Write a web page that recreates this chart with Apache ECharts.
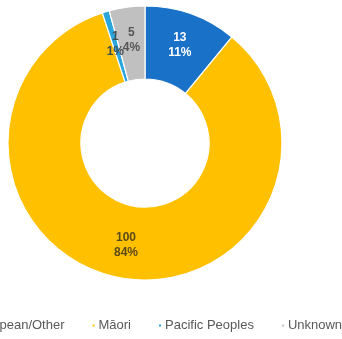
<!DOCTYPE html>
<html>
<head>
<meta charset="utf-8">
<script src="https://cdn.jsdelivr.net/npm/echarts@6/dist/echarts.min.js"></script>
<style>
  html, body { margin: 0; padding: 0; background: #fff; }
  #chart { width: 342px; height: 339px; }
</style>
</head>
<body>
<div id="chart"></div>
<script>
// Ethnicity breakdown (counts)
const categories = ['European/Other', 'Māori', 'Pacific Peoples', 'Unknown'];
const counts = [13, 100, 1, 5];
const colors = ['#1a72c8', '#ffc000', '#2aa6dc', '#c0c0c0'];
const labelColors = ['#ffffff', '#5c4a17', '#3d4a50', '#555555'];

const total = counts.reduce((a, b) => a + b, 0);

const chart = echarts.init(document.getElementById('chart'), null, { renderer: 'canvas' });

chart.setOption({
  animation: false,
  color: colors,
  legend: {
    data: categories,
    orient: 'horizontal',
    bottom: 2,
    left: -41,
    width: 460,
    icon: 'rect',
    itemWidth: 4,
    itemHeight: 4,
    itemGap: 26,
    textStyle: { fontFamily: 'Liberation Sans, Arial, sans-serif', fontSize: 13, color: '#595959', padding: [0, 0, 0, -2] },
    selectedMode: false
  },
  series: [{
    type: 'pie',
    center: [145, 143],
    radius: [64, 137],
    startAngle: 90,
    clockwise: true,
    avoidLabelOverlap: false,
    minShowLabelAngle: 0,
    itemStyle: { borderColor: '#ffffff', borderWidth: 1.2 },
    label: {
      show: true,
      position: 'inside',
      fontFamily: 'Liberation Sans, Arial, sans-serif',
      fontSize: 12,
      fontWeight: 'bold',
      lineHeight: 15,
      formatter: p => p.value + '\n' + Math.round(p.value / total * 100) + '%'
    },
    labelLine: { show: false },
    labelLayout: () => ({ hideOverlap: false }),
    data: categories.map((name, i) => ({
      name,
      value: counts[i],
      label: { color: labelColors[i] }
    }))
  }]
});
</script>
</body>
</html>
